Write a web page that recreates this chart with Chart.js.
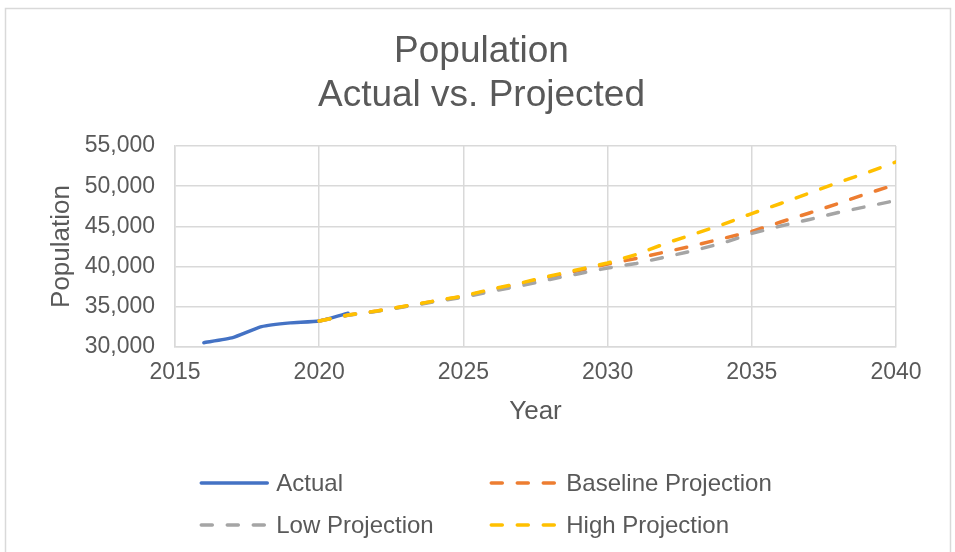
<!DOCTYPE html>
<html>
<head>
<meta charset="utf-8">
<script src="https://cdn.jsdelivr.net/npm/chart.js@4.4.1/dist/chart.umd.min.js"></script>
<style>
  html, body { margin: 0; padding: 0; background: #ffffff; }
  #wrap { width: 955px; height: 552px; position: relative; }
  canvas { display: block; }
</style>
</head>
<body>
<div id="wrap"><canvas id="chart" width="955" height="552"></canvas></div>
<script>
// Population history and projections
const actualYears = [2016, 2017, 2018, 2019, 2020, 2021];
const actualValues = [30540, 31160, 32530, 33000, 33230, 34200];

const projectionYears = [2020, 2021, 2022, 2023, 2024, 2025, 2026, 2027, 2028, 2029, 2030,
                         2031, 2032, 2033, 2034, 2035, 2036, 2037, 2038, 2039, 2040];
const baselineValues = [33230, 33970, 34470, 35080, 35690, 36300, 37150, 37880, 38720, 39500, 40320,
                        41010, 41820, 42620, 43500, 44370, 45550, 46670, 47850, 49090, 50210];
const lowValues = [33230, 33950, 34430, 35030, 35620, 36180, 36950, 37620, 38400, 39120, 39830,
                   40390, 41190, 42000, 42940, 44120, 45050, 45860, 46730, 47480, 48220];
const highValues = [33230, 33980, 34480, 35100, 35720, 36340, 37210, 37960, 38830, 39640, 40450,
                    41510, 42870, 44060, 45240, 46600, 47850, 49150, 50460, 51700, 53010];

const seriesLabels = ['Actual', 'Baseline Projection', 'Low Projection', 'High Projection'];
const titleLines = ['Population', 'Actual vs. Projected'];
const xAxisTitle = 'Year';
const yAxisTitle = 'Population';

const FONT = '"Liberation Sans", Arial, sans-serif';
const TEXT = '#595959';
const GRID = '#d9d9d9';
const DASH = [11, 15];

const toPoints = (xs, ys) => xs.map((x, i) => ({ x: x, y: ys[i] }));

// Outer chart frame
const framePlugin = {
  id: 'frame',
  beforeDraw(chart) {
    const ctx = chart.ctx;
    ctx.save();
    ctx.fillStyle = '#ffffff';
    ctx.fillRect(0, 0, chart.width, chart.height);
    ctx.strokeStyle = GRID;
    ctx.lineWidth = 1.5;
    ctx.strokeRect(5.5, 8.5, chart.width - 10, chart.height + 20);
    ctx.restore();
  }
};

// Two-column legend below the axis
const gridLegend = {
  id: 'gridLegend',
  afterDraw(chart) {
    const ctx = chart.ctx;
    const ds = chart.data.datasets;
    const lineLen = 70, gap = 7, colStep = 290;
    ctx.save();
    ctx.font = '24px ' + FONT;
    ctx.textBaseline = 'middle';
    ctx.textAlign = 'left';
    let maxText = 0;
    ds.forEach(d => { maxText = Math.max(maxText, ctx.measureText(d.label).width); });
    const blockW = colStep + lineLen + gap + maxText;
    const left = (chart.width + 16) / 2 - blockW / 2;
    const rows = [chart.height - 69, chart.height - 27];
    ds.forEach((d, i) => {
      const col = i % 2, row = Math.floor(i / 2);
      const x0 = left + col * colStep;
      const y = rows[row];
      ctx.beginPath();
      ctx.strokeStyle = d.borderColor;
      ctx.lineWidth = d.borderWidth;
      ctx.lineCap = 'round';
      ctx.setLineDash(d.borderDash || []);
      ctx.moveTo(x0 + 2, y);
      ctx.lineTo(x0 + lineLen - 2, y);
      ctx.stroke();
      ctx.setLineDash([]);
      ctx.fillStyle = TEXT;
      ctx.fillText(d.label, x0 + lineLen + gap, y + 1);
    });
    ctx.restore();
  }
};

new Chart(document.getElementById('chart'), {
  type: 'line',
  data: {
    datasets: [
      { label: seriesLabels[0], data: toPoints(actualYears, actualValues),
        borderColor: '#4472C4', borderWidth: 3.5, borderCapStyle: 'round', borderJoinStyle: 'round',
        pointRadius: 0, tension: 0.15, order: 3 },
      { label: seriesLabels[1], data: toPoints(projectionYears, baselineValues),
        borderColor: '#ED7D31', borderWidth: 3.5, borderDash: DASH, borderCapStyle: 'round',
        pointRadius: 0, tension: 0, order: 2 },
      { label: seriesLabels[2], data: toPoints(projectionYears, lowValues),
        borderColor: '#A5A5A5', borderWidth: 3.5, borderDash: DASH, borderCapStyle: 'round',
        pointRadius: 0, tension: 0, order: 1 },
      { label: seriesLabels[3], data: toPoints(projectionYears, highValues),
        borderColor: '#FFC000', borderWidth: 3.5, borderDash: DASH, borderCapStyle: 'round',
        pointRadius: 0, tension: 0, order: 0 }
    ]
  },
  options: {
    responsive: false,
    animation: false,
    layout: { padding: { left: 8, right: 0, top: 0, bottom: 125 } },
    plugins: {
      legend: { display: false },
      tooltip: { enabled: false },
      title: {
        display: true,
        text: titleLines,
        color: TEXT,
        font: { family: FONT, size: 37, weight: 'normal', lineHeight: 44 / 37 },
        padding: { top: 30, bottom: 28 }
      }
    },
    scales: {
      x: {
        type: 'linear',
        min: 2015, max: 2040,
        afterFit(scale) { scale.height = 80; },
        ticks: {
          stepSize: 5,
          color: TEXT,
          padding: 12,
          maxRotation: 0,
          font: { family: FONT, size: 23 },
          callback: v => String(v)
        },
        grid: { color: GRID, lineWidth: 1.5, drawTicks: false },
        border: { color: GRID, width: 1.5 },
        title: {
          display: true, text: xAxisTitle, color: TEXT,
          font: { family: FONT, size: 26 }, padding: { top: 0, bottom: 0 }
        }
      },
      y: {
        min: 30000, max: 55000,
        afterFit(scale) { scale.width = 167; },
        ticks: {
          stepSize: 5000,
          color: TEXT,
          padding: 20,
          font: { family: FONT, size: 23 },
          callback: v => v.toLocaleString('en-US')
        },
        grid: { color: GRID, lineWidth: 1.5, drawTicks: false },
        border: { color: GRID, width: 1.5 },
        title: {
          display: true, text: yAxisTitle, color: TEXT,
          font: { family: FONT, size: 26 }, padding: { top: 38, bottom: 0 }
        }
      },
      // empty right-hand gutter that leaves room beside the last x label
      gutter: {
        position: 'right',
        display: true,
        afterFit(scale) { scale.width = 59; },
        ticks: { display: false },
        grid: { display: false, drawTicks: false },
        border: { display: false }
      }
    }
  },
  plugins: [framePlugin, gridLegend]
});
</script>
</body>
</html>
